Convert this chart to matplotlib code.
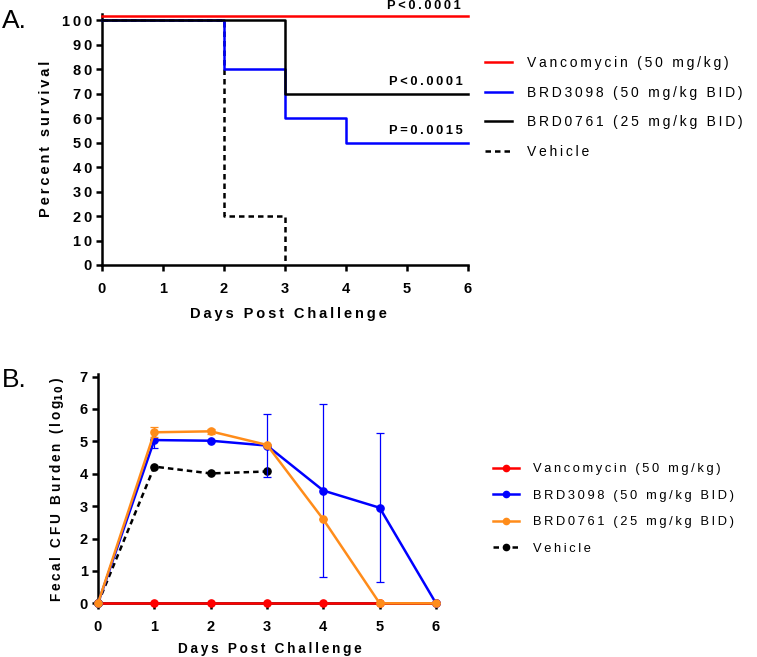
import matplotlib
matplotlib.use("Agg")
import matplotlib.pyplot as plt
from matplotlib.lines import Line2D
import matplotlib.transforms as mtransforms

plt.rcParams['font.family'] = ['Liberation Sans', 'DejaVu Sans']

# ---------------- data ----------------
days = [0, 1, 2, 3, 4, 5, 6]
surv_vanc = [100, 100, 100, 100, 100, 100, 100]
surv_3098 = [100, 100, 80, 60, 50, 50, 50]
surv_0761 = [100, 100, 100, 70, 70, 70, 70]
veh_days = [0, 1, 2, 3]
surv_veh = [100, 100, 20, 0]
pvals = ["P<0.0001", "P<0.0001", "P=0.0015"]

cfu_vanc = [0, 0, 0, 0, 0, 0, 0]
cfu_3098 = [0, 5.04, 5.02, 4.87, 3.48, 2.95, 0]
cfu_3098_lo = [0, 0.23, 0.0, 0.97, 2.67, 2.29, 0]
cfu_3098_hi = [0, 0.0, 0.0, 0.99, 2.66, 2.30, 0]
cfu_0761 = [0, 5.28, 5.31, 4.89, 2.59, 0, 0]
cfu_0761_err = [0, 0.15, 0.07, 0.0, 0.0, 0, 0]
veh_cfu_days = [0, 1, 2, 3]
cfu_veh = [0, 4.22, 4.01, 4.07]

labels_A = ["Vancomycin (50 mg/kg)", "BRD3098 (50 mg/kg BID)", "BRD0761 (25 mg/kg BID)", "Vehicle"]
labels_B = ["Vancomycin (50 mg/kg)", "BRD3098 (50 mg/kg BID)", "BRD0761 (25 mg/kg BID)", "Vehicle"]

RED = "#ff0000"
BLUE = "#0000ff"
ORANGE = "#ff8c1a"
BLACK = "#000000"

SP = "\u2009"
def sp(s, c=SP):
    return c.join(list(s))

W, H = 757, 657
def fx(x):
    return x / W
def fy(y):
    return 1 - y / H

fig = plt.figure(figsize=(W / 100, H / 100), dpi=100)

AXLW = 1.8
def style_axes(ax, xpad):
    for s in ["top", "right"]:
        ax.spines[s].set_visible(False)
    for s in ["left", "bottom"]:
        ax.spines[s].set_linewidth(AXLW)
    ax.tick_params(direction="out", length=4.2, width=AXLW)
    ax.tick_params(axis="y", pad=3)
    ax.tick_params(axis="x", pad=xpad)

lw = 1.8
DASH = (0, (2.2, 1.6))

# ---------------- Panel A ----------------
axA = fig.add_axes([fx(102), fy(265), fx(468) - fx(102), (265 - 13.9) / H])
axA.set_xlim(0, 6)
axA.set_ylim(0, 102.5)
style_axes(axA, 8.0)

axA.plot(veh_days, surv_veh, drawstyle="steps-post", color=BLACK, lw=lw,
         ls=DASH, clip_on=False, zorder=2)
axA.plot(days, surv_3098, drawstyle="steps-post", color=BLUE, lw=lw, clip_on=False, zorder=3)
axA.plot(days, surv_0761, drawstyle="steps-post", color=BLACK, lw=lw, clip_on=False, zorder=4)
off = mtransforms.offset_copy(axA.transData, fig=fig, x=0, y=3.1, units="points")
axA.plot(days, surv_vanc, color=RED, lw=lw, transform=off, clip_on=False, zorder=5)

axA.set_xticks(days)
axA.set_xticklabels([str(d) for d in days], fontsize=10.5, fontweight="bold")
yt = list(range(0, 101, 10))
axA.set_yticks(yt)
axA.set_yticklabels([sp(str(v)) for v in yt], fontsize=10.5, fontweight="bold")

fig.text(fx(461), fy(0.3), sp(pvals[0]), ha="right", va="top",
         fontsize=9.3, fontweight="bold")
axA.text(5.91, 74.7, sp(pvals[1]), ha="right", va="center",
         fontsize=9.3, fontweight="bold", clip_on=False)
axA.text(5.91, 54.7, sp(pvals[2]), ha="right", va="center",
         fontsize=9.3, fontweight="bold", clip_on=False)

fig.text(fx(46), fy(138.5), sp("Percent survival"), rotation=90, ha="center", va="center",
         fontsize=10.5, fontweight="bold")
fig.text(fx(288), fy(314), sp("Days Post Challenge"), ha="center", va="center",
         fontsize=10.5, fontweight="bold")
fig.text(fx(2), fy(21), "A.", ha="left", va="center", fontsize=19)

hA = [Line2D([], [], color=RED, lw=lw),
      Line2D([], [], color=BLUE, lw=lw),
      Line2D([], [], color=BLACK, lw=lw),
      Line2D([], [], color=BLACK, lw=lw, ls=DASH)]
fig.legend(hA, [sp(l) for l in labels_A], loc="upper left",
           bbox_to_anchor=(fx(485), fy(56)), frameon=False, fontsize=10,
           handlelength=1.95, handletextpad=1.05, labelspacing=1.12, borderaxespad=0,
           borderpad=0)

# ---------------- Panel B ----------------
axB = fig.add_axes([fx(98), fy(603.3), fx(436) - fx(98), (603.3 - 374) / H])
axB.set_xlim(0, 6)
axB.set_ylim(0, 7.08)
style_axes(axB, 8.0)

ms = 5.2
axB.plot(days, cfu_vanc, color=RED, lw=lw, marker="o", ms=ms, clip_on=False, zorder=3)
axB.plot(veh_cfu_days, cfu_veh, color=BLACK, lw=lw, ls=DASH, marker="o", ms=ms,
         clip_on=False, zorder=4)
axB.errorbar(days, cfu_3098, yerr=[cfu_3098_lo, cfu_3098_hi], color=BLUE, lw=lw,
             marker="o", ms=ms, ecolor=BLUE, elinewidth=0.9, capsize=3, capthick=0.9,
             clip_on=False, zorder=5)
axB.errorbar(days, cfu_0761, yerr=cfu_0761_err, color=ORANGE, lw=lw,
             marker="o", ms=ms, ecolor=ORANGE, elinewidth=0.9, capsize=3, capthick=0.9,
             clip_on=False, zorder=6)

axB.set_xticks(days)
axB.set_xticklabels([str(d) for d in days], fontsize=10.5, fontweight="bold")
ytb = list(range(0, 8))
axB.set_yticks(ytb)
axB.set_yticklabels([str(v) for v in ytb], fontsize=10.5, fontweight="bold")

fig.text(fx(57), fy(489.5), sp("Fecal CFU Burden (log") + r"$_{\mathbf{1}\,\mathbf{0}}$" + SP + ")",
         rotation=90, ha="center", va="center", fontsize=9.8, fontweight="bold")
fig.text(fx(270), fy(649), sp("Days Post Challenge"), ha="center", va="center",
         fontsize=9.8, fontweight="bold")
fig.text(fx(2), fy(380), "B.", ha="left", va="center", fontsize=19)

hB = [Line2D([], [], color=RED, lw=lw, marker="o", ms=4.5),
      Line2D([], [], color=BLUE, lw=lw, marker="o", ms=4.5),
      Line2D([], [], color=ORANGE, lw=lw, marker="o", ms=4.5),
      Line2D([], [], color=BLACK, lw=lw, marker="o", ms=4.5, ls=DASH)]
fig.legend(hB, [sp(l) for l in labels_B], loc="upper left",
           bbox_to_anchor=(fx(493), fy(463)), frameon=False, fontsize=9.3,
           handlelength=2.0, handletextpad=1.1, labelspacing=1.12, borderaxespad=0,
           borderpad=0)

fig.savefig("out.png", dpi=100)
